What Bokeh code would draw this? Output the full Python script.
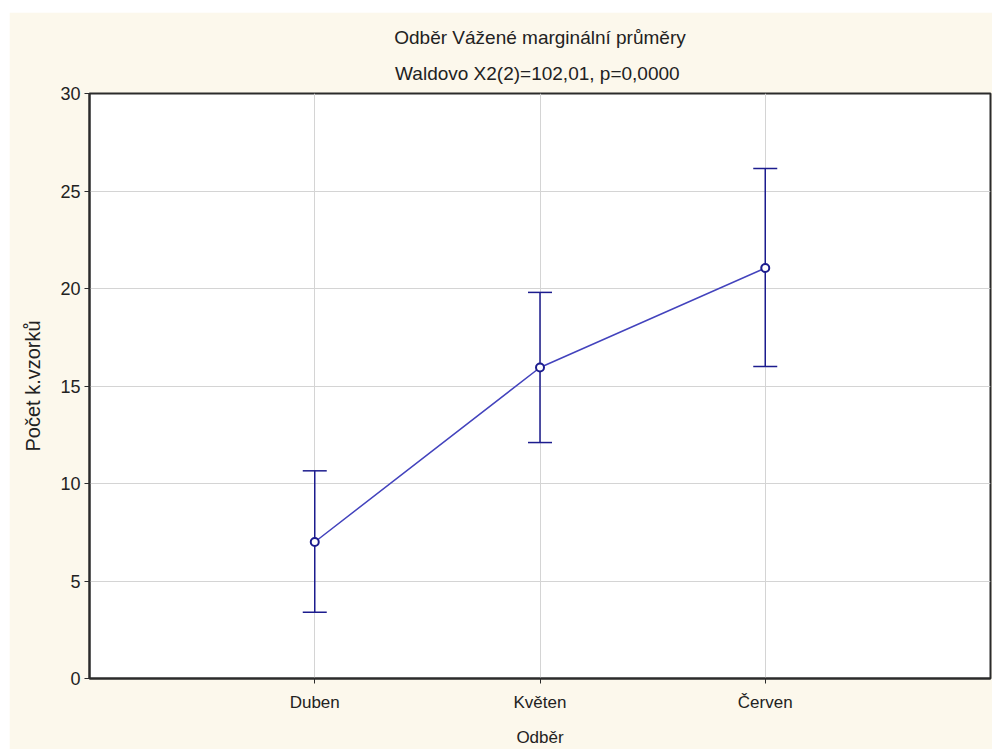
from bokeh.plotting import figure
from bokeh.models import (ColumnDataSource, FactorRange, Range1d, Whisker, TeeHead,
                          Title, FixedTicker)
from bokeh.embed import file_html
from bokeh.resources import INLINE

# ---- data ----
categories = ["Duben", "Květen", "Červen"]
means = [7.0, 15.95, 21.05]
upper = [10.65, 19.8, 26.15]
lower = [3.4, 12.1, 16.0]
y_ticks = [0, 5, 10, 15, 20, 25, 30]

title_line1 = "Odběr Vážené marginální průměry"
title_line2 = "Waldovo  X2(2)=102,01, p=0,0000"
x_label = "Odběr"
y_label = "Počet k.vzorků"

FONT = "Liberation Sans"
NAVY = "#1c1c8e"
LINE = "#4343bd"
CREAM = "#fcf8ec"

src = ColumnDataSource(dict(x=categories, mean=means, upper=upper, lower=lower))

p = figure(
    width=983, height=737,
    x_range=FactorRange(*categories, range_padding=1/3),
    y_range=Range1d(0, 30),
    output_backend="svg", toolbar_location=None,
    min_border_left=80, min_border_right=2, min_border_top=0, min_border_bottom=69,
)
p.margin = (12, 0, 0, 9)
p.title = None
# small spacer between the titles and the frame
p.add_layout(Title(text=" ", text_font_size="1px", standoff=7), "above")
p.add_layout(Title(text=title_line2, align="center", text_font=FONT,
                   text_font_size="19px", text_font_style="normal",
                   text_color="#222222", standoff=0), "above")
p.add_layout(Title(text=title_line1, align="center", text_font=FONT,
                   text_font_size="19px", text_font_style="normal",
                   text_color="#222222", standoff=25), "above")

p.border_fill_color = CREAM
p.background_fill_color = "white"
p.outline_line_color = "#2b2b2b"
p.outline_line_width = 2

p.xgrid.grid_line_color = "#d4d4d4"
p.ygrid.grid_line_color = "#d4d4d4"
p.xgrid.grid_line_width = 1
p.ygrid.grid_line_width = 1

p.yaxis.ticker = FixedTicker(ticks=y_ticks)
for ax in (p.xaxis[0], p.yaxis[0]):
    ax.axis_line_color = "#2b2b2b"
    ax.axis_line_width = 2
    ax.major_tick_line_color = "#2b2b2b"
    ax.major_tick_in = 0
    ax.major_tick_out = 5
    ax.minor_tick_line_color = None
    ax.major_label_text_font = FONT
    ax.major_label_text_font_size = "17px"
    ax.major_label_text_color = "#222222"
    ax.axis_label_text_font = FONT
    ax.axis_label_text_font_size = "17px"
    ax.axis_label_text_font_style = "normal"
    ax.axis_label_text_color = "#222222"

p.xaxis.axis_label = x_label
p.yaxis.axis_label = y_label
p.yaxis.axis_label_text_font_size = "20px"
p.yaxis.major_label_text_font_size = "18px"
p.xaxis.major_label_standoff = 9
p.xaxis.axis_label_standoff = 13
p.yaxis.major_label_standoff = 4
p.yaxis.axis_label_standoff = 13

wh = Whisker(base="x", upper="upper", lower="lower", source=src,
             line_color=NAVY, line_width=1.5, level="underlay",
             upper_head=TeeHead(size=24, line_color=NAVY, line_width=1.5),
             lower_head=TeeHead(size=24, line_color=NAVY, line_width=1.5))
p.add_layout(wh)

p.line(x="x", y="mean", source=src, line_color=LINE, line_width=1.5)
p.scatter(x="x", y="mean", source=src, marker="circle", size=8,
          fill_color="white", line_color=NAVY, line_width=2)

open("out.html", "w").write(file_html(p, INLINE))
